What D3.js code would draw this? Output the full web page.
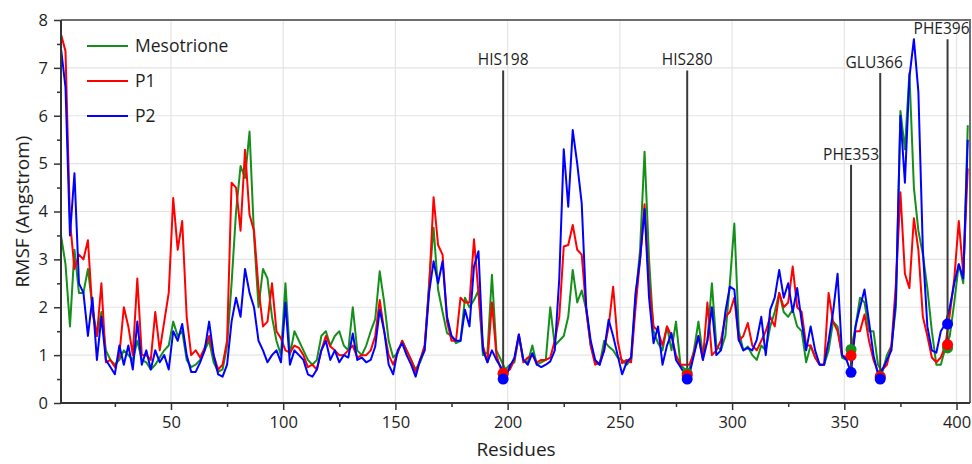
<!DOCTYPE html>
<html><head><meta charset="utf-8">
<script src="https://cdn.jsdelivr.net/npm/d3@7"></script>
<style>body{margin:0;background:#fff}svg{display:block}</style>
</head><body>
<svg id="chart" width="972" height="464"></svg>
<script>
// ---------- data ----------
const residues = d3.range(1, 407, 2); // 1,3,...,405
const mesotrione = [
 3.5,2.9,1.6,3.2,2.3,2.3,2.8,2.0,1.4,1.9,
 1.1,0.9,0.8,0.9,1.1,1.0,0.9,1.3,0.9,0.85,
 0.7,0.8,0.95,1.1,1.2,1.7,1.4,1.5,0.9,0.75,
 0.8,0.9,1.1,1.3,0.85,0.65,0.7,1.2,2.5,4.0,
 4.95,4.7,5.67,3.5,2.0,2.8,2.6,1.8,1.3,1.0,
 2.5,1.0,1.5,1.3,1.1,0.9,0.8,0.9,1.4,1.5,
 1.2,1.4,1.5,1.2,1.1,2.0,1.1,1.0,1.2,1.5,
 1.75,2.75,2.1,1.3,0.95,1.05,1.3,1.1,0.9,0.7,
 0.85,1.1,2.5,3.66,2.37,1.9,1.46,1.4,1.25,1.3,
 2.2,2.0,2.15,2.35,1.0,1.05,2.68,1.1,0.9,0.7,
 0.8,0.85,1.4,0.9,0.85,1.2,0.8,0.85,0.9,2.0,
 1.2,1.3,1.4,1.8,2.78,2.1,2.35,1.95,1.2,0.85,
 0.8,1.3,1.18,1.1,0.95,0.9,0.8,0.9,2.2,3.2,
 5.25,3.0,1.5,1.25,1.1,1.6,1.1,1.7,0.8,0.7,
 0.7,1.1,1.7,1.0,1.3,2.5,1.2,1.1,1.4,2.5,
 3.75,1.5,1.1,1.18,1.0,0.9,1.2,1.1,1.6,1.9,
 2.3,1.9,1.8,1.95,1.6,1.5,0.85,1.2,0.95,0.8,
 0.8,1.1,1.7,1.6,0.95,0.9,1.1,1.6,2.2,2.1,
 1.5,1.5,0.8,0.65,1.0,1.2,2.0,6.1,5.3,6.89,
 4.5,3.6,3.1,2.4,1.5,0.8,0.8,1.15,1.4,2.1,
 2.9,2.5,5.8
];
const p1 = [
 7.7,7.35,3.8,2.8,3.1,3.0,3.4,1.9,1.4,2.5,
 0.85,0.9,0.75,1.0,2.0,1.6,1.0,2.6,1.0,1.0,
 0.9,1.9,1.1,1.7,2.3,4.28,3.2,3.8,1.8,1.0,
 1.1,0.95,1.15,1.4,1.0,0.7,0.8,1.3,4.6,4.5,
 3.6,5.29,3.93,3.6,2.4,1.6,1.7,2.5,1.5,1.35,
 1.1,1.05,1.2,1.15,1.0,0.75,0.8,0.7,1.1,1.4,
 1.18,1.1,1.0,1.0,1.1,1.2,0.95,1.0,1.0,1.1,
 1.4,2.15,1.5,1.0,0.8,1.05,1.3,1.1,0.9,0.65,
 0.9,1.2,2.4,4.3,3.3,3.1,1.7,1.3,1.3,2.2,
 2.1,2.1,3.42,2.3,1.2,0.85,2.1,1.0,0.7,0.65,
 0.7,0.9,1.43,0.85,0.95,1.0,0.85,0.9,0.9,0.95,
 1.3,1.8,3.27,3.3,3.72,3.2,3.1,1.95,1.2,0.8,
 0.85,1.1,1.6,2.43,1.3,0.83,0.9,0.85,2.0,3.0,
 4.15,2.5,1.6,1.5,1.2,1.6,1.4,1.0,0.8,0.8,
 0.8,1.05,1.4,0.9,2.1,1.0,1.1,1.3,1.8,1.9,
 2.2,1.3,1.4,1.67,1.2,1.1,1.3,1.5,1.8,1.6,
 2.3,2.0,2.1,2.85,2.0,1.9,1.2,1.2,0.95,0.8,
 0.8,2.3,1.7,1.5,1.0,0.95,1.0,1.5,1.5,1.85,
 1.3,0.9,0.65,0.7,0.8,1.2,2.5,4.4,2.7,2.4,
 3.86,3.2,1.8,1.4,0.95,0.85,0.95,1.2,1.85,2.6,
 3.8,2.7,4.9
];
const p2 = [
 7.4,6.6,3.5,4.8,2.5,2.3,1.4,2.2,0.9,1.8,
 0.9,0.75,0.6,1.2,0.8,1.2,0.7,1.7,0.8,1.1,
 0.7,1.1,0.85,1.0,0.7,1.5,1.3,1.65,1.0,0.65,
 0.65,0.85,1.1,1.7,1.0,0.6,0.55,0.8,1.7,2.2,
 1.8,2.8,2.3,2.0,1.3,1.1,0.85,1.0,1.1,0.85,
 2.1,0.8,1.1,1.0,0.9,0.6,0.55,0.7,1.1,1.3,
 0.9,1.1,0.85,1.0,0.95,1.45,0.9,0.95,0.85,0.9,
 1.18,1.95,1.5,0.8,0.6,1.1,1.25,1.0,0.8,0.55,
 0.9,1.1,2.3,2.96,2.5,2.96,1.8,1.4,1.3,1.3,
 1.95,1.6,2.85,3.17,1.1,0.85,1.1,0.9,0.75,0.5,
 0.77,0.94,1.43,0.9,0.8,1.04,0.8,0.75,0.8,0.87,
 1.1,2.6,5.3,4.1,5.7,5.0,4.17,2.0,1.3,0.9,
 0.8,1.1,1.74,1.4,1.0,0.6,0.85,0.95,2.3,3.0,
 4.05,2.2,1.25,1.6,0.8,1.2,1.46,0.9,0.75,0.6,
 0.6,1.0,1.4,0.9,1.3,2.0,1.0,1.1,1.9,2.43,
 2.37,1.32,1.1,1.15,1.1,1.32,1.8,1.0,1.95,2.2,
 2.78,2.2,2.5,1.9,2.4,1.7,1.1,1.6,1.1,0.8,
 0.8,1.3,1.9,2.7,1.0,0.9,0.63,1.6,2.0,2.37,
 1.7,1.0,0.6,0.7,0.9,1.1,2.2,6.0,4.6,6.8,
 7.6,6.5,3.2,1.6,1.1,1.05,1.5,1.65,2.0,2.5,
 2.9,2.6,5.5
];
const seriesNames = ["Mesotrione", "P1", "P2"];
const xTicks = [50, 100, 150, 200, 250, 300, 350, 400];
const xMinorTicks = [25, 75, 125, 175, 225, 275, 325, 375];
const yTicks = [0, 1, 2, 3, 4, 5, 6, 7, 8];
const yMinorTicks = [0.5, 1.5, 2.5, 3.5, 4.5, 5.5, 6.5, 7.5];
const siteNames = ["HIS198", "HIS280", "PHE353", "GLU366", "PHE396"];
const siteResidues = [198, 280, 353, 366, 396];
const siteMeso = [0.6, 0.62, 1.12, 0.55, 1.15];
const siteP1 = [0.62, 0.58, 0.99, 0.55, 1.22];
const siteP2 = [0.5, 0.5, 0.64, 0.5, 1.65];
const siteLabelLevel = [7.05, 7.05, 5.08, 7.0, 7.7];

// ---------- layout ----------
const W = 972, H = 464;
const m = {left: 61, right: 2, top: 20, bottom: 61};
const colors = ["#14901a", "#ff0000", "#0000ff"];
const font = "'Open Sans', 'Noto Sans', sans-serif";
const labelDx = [0, 0, 0, -6, -6];
const textColor = "#1e1e1e";

const svg = d3.select("#chart");
const x = d3.scaleLinear().domain([1, 406]).range([m.left, W - m.right]);
const y = d3.scaleLinear().domain([0, 8]).range([H - m.bottom, m.top]);

// grid
const grid = svg.append("g");
grid.selectAll("line.gx").data(xTicks).join("line")
  .attr("x1", d => x(d)).attr("x2", d => x(d))
  .attr("y1", y(0)).attr("y2", y(8))
  .attr("stroke", "#e4e4e4").attr("stroke-width", 1.2);
grid.selectAll("line.gy").data(yTicks.slice(1, -1)).join("line")
  .attr("x1", x(1)).attr("x2", x(406))
  .attr("y1", d => y(d)).attr("y2", d => y(d))
  .attr("stroke", "#e4e4e4").attr("stroke-width", 1.2);

// frame (top & right)
svg.append("path")
  .attr("d", `M${x(1)},${y(8)}H${x(406)}V${y(0)}`)
  .attr("fill", "none").attr("stroke", "#6e6e6e").attr("stroke-width", 2);

// lines
const seriesData = [mesotrione, p1, p2];
const line = d3.line().x((d, i) => x(residues[i])).y(d => y(d));
svg.append("g").selectAll("path").data(seriesData).join("path")
  .attr("d", d => line(d))
  .attr("fill", "none")
  .attr("stroke", (d, i) => colors[i])
  .attr("stroke-width", 2)
  .attr("stroke-linejoin", "round");

// annotation lines
const siteMin = siteResidues.map((r, i) => Math.min(siteMeso[i], siteP1[i], siteP2[i]));
const ann = svg.append("g");
ann.selectAll("line").data(siteResidues).join("line")
  .attr("x1", d => x(d)).attr("x2", d => x(d))
  .attr("y1", (d, i) => y(siteLabelLevel[i]) + 5)
  .attr("y2", (d, i) => y(siteMin[i]))
  .attr("stroke", "#3a3a3a").attr("stroke-width", 2);
ann.selectAll("text").data(siteNames).join("text")
  .attr("x", (d, i) => x(siteResidues[i]) + labelDx[i])
  .attr("y", (d, i) => y(siteLabelLevel[i]))
  .attr("text-anchor", "middle")
  .attr("font-family", font).attr("font-size", 15.5)
  .attr("fill", textColor)
  .text(d => d);

// markers
const markerSets = [siteMeso, siteP1, siteP2];
markerSets.forEach((vals, k) => {
  svg.append("g").selectAll("circle").data(vals).join("circle")
    .attr("cx", (d, i) => x(siteResidues[i]))
    .attr("cy", d => y(d))
    .attr("r", 5.5)
    .attr("fill", colors[k]);
});

// axes
const axisColor = "#333";
const gx = svg.append("g").attr("transform", `translate(0,${y(0)})`)
  .call(d3.axisBottom(x).tickValues(xTicks).tickSize(7).tickPadding(6));
svg.append("g").attr("transform", `translate(0,${y(0)})`)
  .call(d3.axisBottom(x).tickValues(xMinorTicks).tickSize(4).tickFormat(""))
  .call(g => g.select(".domain").remove())
  .selectAll("line").attr("stroke", axisColor).attr("stroke-width", 1.5);
gx.select(".domain").attr("stroke", axisColor).attr("stroke-width", 2)
  .attr("d", `M${x(1)},0H${x(406)}`);
gx.selectAll(".tick line").attr("stroke", axisColor).attr("stroke-width", 1.5);
gx.selectAll("text").attr("font-family", font).attr("font-size", 16.5).attr("fill", textColor);

const gy = svg.append("g").attr("transform", `translate(${x(1)},0)`)
  .call(d3.axisLeft(y).tickValues(yTicks).tickSize(7).tickPadding(6));
svg.append("g").attr("transform", `translate(${x(1)},0)`)
  .call(d3.axisLeft(y).tickValues(yMinorTicks).tickSize(4).tickFormat(""))
  .call(g => g.select(".domain").remove())
  .selectAll("line").attr("stroke", axisColor).attr("stroke-width", 1.5);
gy.select(".domain").attr("stroke", axisColor).attr("stroke-width", 2)
  .attr("d", `M0,${y(0)}V${y(8)}`);
gy.selectAll(".tick line").attr("stroke", axisColor).attr("stroke-width", 1.5);
gy.selectAll("text").attr("font-family", font).attr("font-size", 16.5).attr("fill", textColor);

// axis titles
svg.append("text").attr("x", 516).attr("y", 456)
  .attr("text-anchor", "middle").attr("font-family", font).attr("font-size", 19)
  .attr("fill", textColor).text("Residues");
svg.append("text").attr("transform", `translate(29,${(y(0) + y(8)) / 2}) rotate(-90)`)
  .attr("text-anchor", "middle").attr("font-family", font).attr("font-size", 19)
  .attr("fill", textColor).text("RMSF (Angstrom)");

// legend
const leg = svg.append("g");
seriesNames.forEach((name, i) => {
  const ly = 46 + i * 35;
  leg.append("line").attr("x1", 87).attr("x2", 128).attr("y1", ly).attr("y2", ly)
    .attr("stroke", colors[i]).attr("stroke-width", 2);
  leg.append("text").attr("x", 135).attr("y", ly + 6)
    .attr("font-family", font).attr("font-size", 17.5).attr("fill", textColor).text(name);
});
</script>
</body></html>
